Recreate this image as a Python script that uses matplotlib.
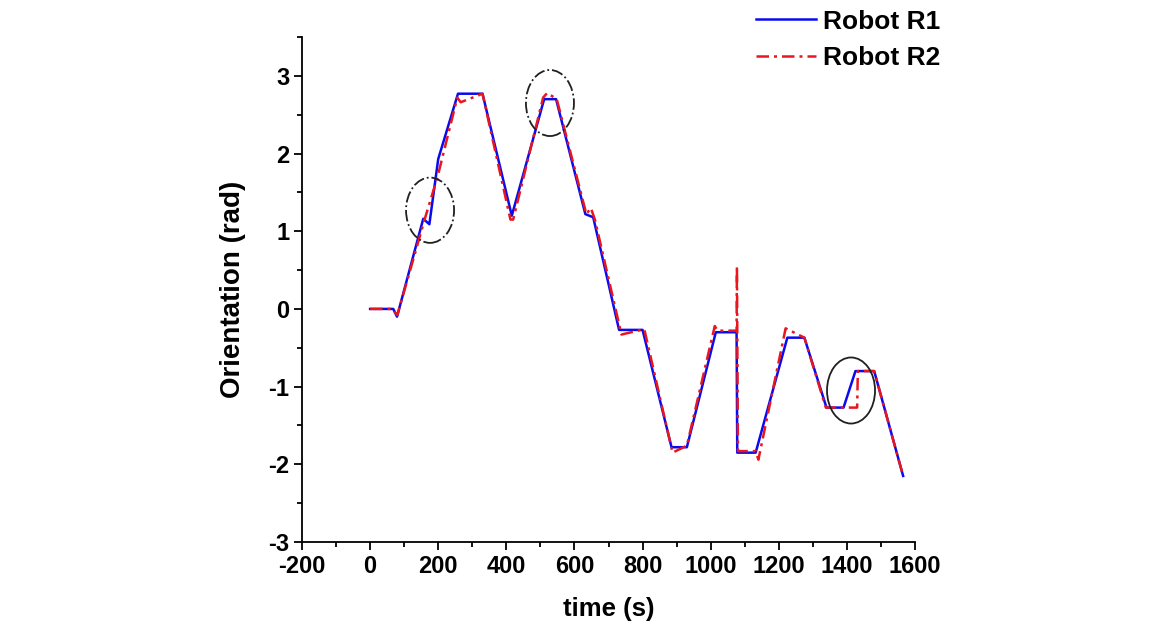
import matplotlib
matplotlib.use("Agg")
import matplotlib.pyplot as plt
from matplotlib.patches import Ellipse
from matplotlib.ticker import MultipleLocator

plt.rcParams['font.family'] = ['Liberation Sans', 'DejaVu Sans']
plt.rcParams['font.weight'] = 'bold'
plt.rcParams['axes.unicode_minus'] = False

# Robot R1 (solid blue)
t_r1 = [0, 68, 79, 156, 174, 200, 258, 330, 416, 511, 546, 632, 655, 731, 800,
        885, 930, 1015, 1076, 1078, 1132, 1225, 1275, 1340, 1390, 1425, 1480, 1565]
v_r1 = [0, 0, -0.1, 1.16, 1.09, 1.93, 2.77, 2.77, 1.2, 2.7, 2.7, 1.22, 1.18, -0.27, -0.27,
        -1.78, -1.78, -0.3, -0.3, -1.85, -1.85, -0.37, -0.37, -1.27, -1.27, -0.8, -0.8, -2.15]

# Robot R2 (dash-dot red)
t_r2 = [0, 66, 80, 160, 198, 256, 266, 330, 412, 420, 508, 520, 548, 635, 648, 660,
        738, 805, 888, 930, 1012, 1020, 1076, 1077, 1080, 1132, 1140, 1220, 1275,
        1338, 1430, 1432, 1480, 1565]
v_r2 = [0, 0, -0.08, 1.15, 1.7, 2.72, 2.66, 2.77, 1.15, 1.15, 2.72, 2.78, 2.7, 1.22,
        1.3, 1.15, -0.33, -0.26, -1.85, -1.76, -0.22, -0.28, -0.28, 0.55, -1.83, -1.83,
        -1.94, -0.25, -0.37, -1.27, -1.27, -0.8, -0.8, -2.15]

# highlighted regions: (centre t, centre v, width, height, style)
marks = [(176, 1.27, 141, 0.84, '-.'),
         (528, 2.65, 141, 0.85, '-.'),
         (1412, -1.05, 141, 0.85, '-')]

fig = plt.figure(figsize=(11.5, 6.29), dpi=100)
ax = fig.add_axes([0.2626, 0.1383, 0.5331, 0.8029])

ax.plot(t_r1, v_r1, color='#0a0af0', lw=1.8, label='Robot R1', zorder=3)
ax.plot(t_r2, v_r2, color='#e8161e', lw=1.8, ls=(0, (5, 2, 1.2, 2)), label='Robot R2', zorder=4)

for cx, cy, w, h, st in marks:
    ax.add_patch(Ellipse((cx, cy), w, h, fill=False, ec='#202020', lw=1.3, ls=st, zorder=5))

ax.set_xlim(-200, 1600)
ax.set_ylim(-3, 3.5)
ax.xaxis.set_major_locator(MultipleLocator(200))
ax.xaxis.set_minor_locator(MultipleLocator(100))
ax.yaxis.set_major_locator(MultipleLocator(1))
ax.yaxis.set_minor_locator(MultipleLocator(0.5))
ax.set_yticks([-3, -2, -1, 0, 1, 2, 3])

for s in ['top', 'right']:
    ax.spines[s].set_visible(False)
for s in ['left', 'bottom']:
    ax.spines[s].set_linewidth(1.3)

ax.tick_params(which='major', length=6, width=1.3, labelsize=17, pad=3)
ax.tick_params(which='minor', length=3.5, width=1.3)

ax.set_xlabel('time (s)', fontsize=18.5, fontweight='bold', labelpad=14)
ax.set_ylabel('Orientation (rad)', fontsize=20, fontweight='bold', labelpad=16)

fig.legend(loc='upper left', bbox_to_anchor=(0.641, 1.014), frameon=False,
           fontsize=19, handlelength=2.3, handletextpad=0.27, labelspacing=0.48,
           borderpad=0.2)

fig.savefig('out.png', dpi=100)
